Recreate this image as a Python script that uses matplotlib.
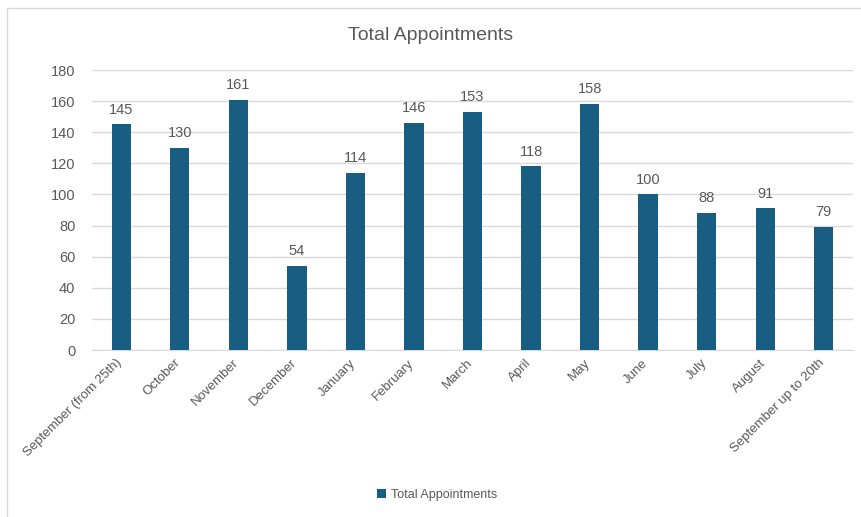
import matplotlib
matplotlib.use("Agg")
import matplotlib.pyplot as plt
from matplotlib.patches import Rectangle

months = [
    "September (from 25th)", "October", "November", "December", "January",
    "February", "March", "April", "May", "June", "July", "August",
    "September up to 20th",
]
appointments = [145, 130, 161, 54, 114, 146, 153, 118, 158, 100, 88, 91, 79]
y_ticks = [0, 20, 40, 60, 80, 100, 120, 140, 160, 180]

BAR = "#175E82"
TEXT = "#595959"
GRID = "#D9D9D9"

plt.rcParams["font.family"] = ["Liberation Sans Narrow", "Liberation Sans", "DejaVu Sans"]

fig = plt.figure(figsize=(8.62, 5.17), dpi=100)
fig.patch.set_facecolor("white")

# outer chart frame
fig.patches.append(Rectangle((7 / 862, -0.01), 1.0, 1 - 8 / 517 + 0.01,
                             transform=fig.transFigure, fill=False,
                             edgecolor="#D9D9D9", linewidth=1.0))

ax = fig.add_axes([92 / 862, 1 - 350 / 517, 761 / 862, 280 / 517])
x = range(len(months))
bars = ax.bar(x, appointments, width=0.33, color=BAR, label="Total Appointments", zorder=3)

for rect, v in zip(bars, appointments):
    ax.text(rect.get_x() + rect.get_width() / 2, v + 5, str(v),
            ha="center", va="bottom", fontsize=10.5, color=TEXT)

ax.set_ylim(0, 180)
ax.set_xlim(-0.5, len(months) - 0.5)
ax.set_yticks(y_ticks)
ax.yaxis.grid(True, color=GRID, linewidth=1.0, zorder=0)
ax.set_xticks([i - 0.1 for i in x])
ax.set_xticklabels(months, rotation=45, ha="right", rotation_mode="anchor",
                   fontsize=9.5, color=TEXT)
ax.tick_params(axis="y", labelsize=10.5, labelcolor=TEXT, length=0, pad=12)
ax.tick_params(axis="x", length=0, pad=5)
for side in ["top", "right", "left"]:
    ax.spines[side].set_visible(False)
ax.spines["bottom"].set_color(GRID)

fig.text(0.5, 1 - 36 / 517, "Total Appointments", ha="center", va="center",
         fontsize=14, color=TEXT)

fig.legend(handles=[bars], labels=["Total Appointments"], loc="center",
           bbox_to_anchor=(437 / 862, 1 - 495 / 517), frameon=False,
           fontsize=9, labelcolor=TEXT, handlelength=0.7, handleheight=0.7,
           handletextpad=0.4)

fig.savefig("out.png", dpi=100)
